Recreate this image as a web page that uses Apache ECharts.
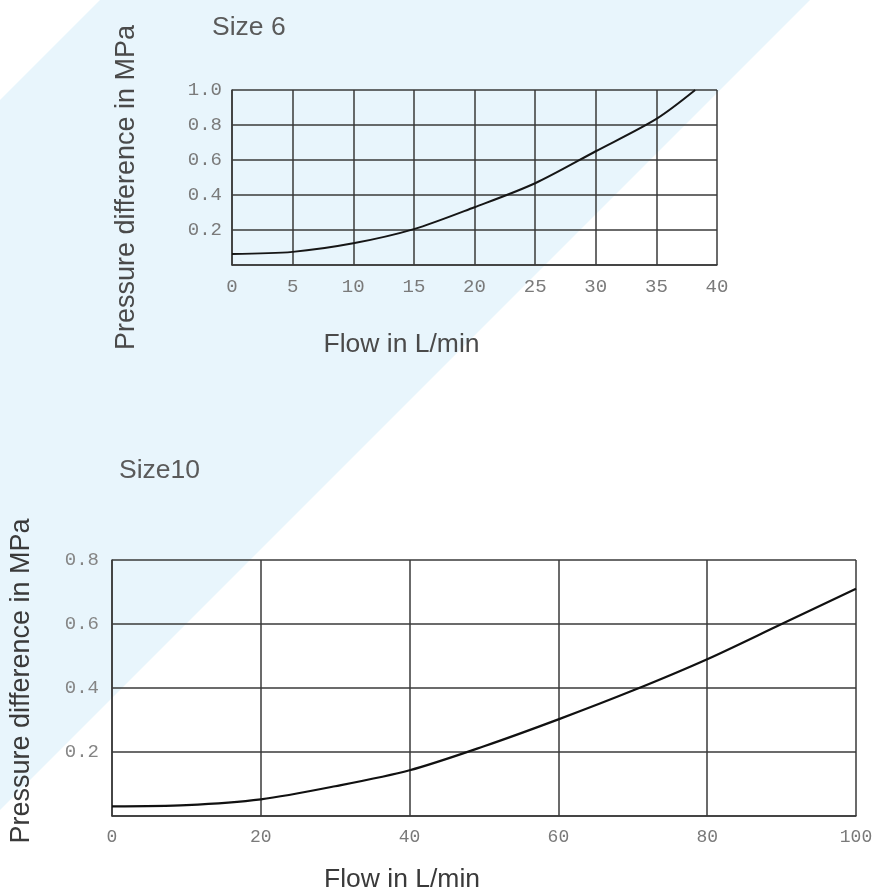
<!DOCTYPE html>
<html>
<head>
<meta charset="utf-8">
<script src="https://cdn.jsdelivr.net/npm/echarts@6/dist/echarts.min.js"></script>
<style>
html,body{margin:0;padding:0;background:#fff;}
#chart{width:878px;height:891px;}
</style>
</head>
<body>
<div id="chart"></div>
<script>
// Size 6
const flow6 = [0, 5, 10, 15, 20, 25, 30, 35, 38.2];
const dp6 = [0.063, 0.075, 0.124, 0.205, 0.33, 0.467, 0.65, 0.835, 1.0];
// Size 10
const flow10 = [0, 10, 20, 30, 40, 50, 60, 70, 80, 90, 100];
const dp10 = [0.03, 0.034, 0.052, 0.093, 0.143, 0.218, 0.302, 0.392, 0.49, 0.6, 0.71];

const titles = ['Size 6', 'Size10'];
const yName = 'Pressure difference in MPa';
const xName = 'Flow in L/min';

const sans = 'Liberation Sans, Arial, sans-serif';
const mono = 'Liberation Mono, DejaVu Sans Mono, monospace';
const gridLine = {lineStyle: {color: '#3a3a3a', width: 1.5}};

const chart = echarts.init(document.getElementById('chart'));
chart.setOption({
  animation: false,
  backgroundColor: '#ffffff',
  graphic: [{
    type: 'polygon', z: -10, silent: true,
    shape: {points: [[100, 0], [810, 0], [0, 810], [0, 100]]},
    style: {fill: '#e8f5fc'}
  }],
  title: [
    {text: titles[0], left: 212, top: 14, padding: 0,
     textStyle: {fontFamily: sans, fontSize: 26.5, fontWeight: 'normal', color: '#5a5a5a'}},
    {text: titles[1], left: 119, top: 457, padding: 0,
     textStyle: {fontFamily: sans, fontSize: 26.5, fontWeight: 'normal', color: '#5a5a5a'}}
  ],
  grid: [
    {left: 232, top: 90, width: 485, height: 175, show: false, containLabel: false, outerBoundsMode: 'none'},
    {left: 112, top: 560, width: 744, height: 256, show: false, containLabel: false, outerBoundsMode: 'none'}
  ],
  xAxis: [
    {type: 'value', gridIndex: 0, min: 0, max: 40, interval: 5,
     name: xName, nameLocation: 'middle', nameGap: 66,
     nameTextStyle: {fontFamily: sans, fontSize: 26.5, color: '#4a4a4a', padding: [0, 146, 0, 0]},
     axisLine: {show: true, lineStyle: {color: '#3a3a3a', width: 1.5}},
     axisTick: {show: false},
     axisLabel: {fontFamily: mono, fontSize: 19, color: '#7a7a7a', margin: 12},
     splitLine: {show: true, ...gridLine}},
    {type: 'value', gridIndex: 1, min: 0, max: 100, interval: 20,
     name: xName, nameLocation: 'middle', nameGap: 50,
     nameTextStyle: {fontFamily: sans, fontSize: 26.5, color: '#3a3a3a', padding: [0, 164, 0, 0]},
     axisLine: {show: true, lineStyle: {color: '#3a3a3a', width: 1.5}},
     axisTick: {show: false},
     axisLabel: {fontFamily: mono, fontSize: 18, color: '#7a7a7a', margin: 12},
     splitLine: {show: true, ...gridLine}}
  ],
  yAxis: [
    {type: 'value', gridIndex: 0, min: 0, max: 1, interval: 0.2,
     name: yName, nameLocation: 'middle', nameGap: 92,
     nameTextStyle: {fontFamily: sans, fontSize: 27, color: '#4a4a4a', padding: [0, 20, 0, 0]},
     axisLine: {show: true, lineStyle: {color: '#3a3a3a', width: 1.5}},
     axisTick: {show: false},
     axisLabel: {fontFamily: mono, fontSize: 19, color: '#7a7a7a', margin: 10,
       formatter: v => v === 0 ? '' : v.toFixed(1)},
     splitLine: {show: true, ...gridLine}},
    {type: 'value', gridIndex: 1, min: 0, max: 0.8, interval: 0.2,
     name: yName, nameLocation: 'middle', nameGap: 77,
     nameTextStyle: {fontFamily: sans, fontSize: 27, color: '#3a3a3a', padding: [0, 0, 0, 14]},
     axisLine: {show: true, lineStyle: {color: '#3a3a3a', width: 1.5}},
     axisTick: {show: false},
     axisLabel: {fontFamily: mono, fontSize: 19, color: '#858585', margin: 13,
       formatter: v => v === 0 ? '' : v.toFixed(1)},
     splitLine: {show: true, ...gridLine}}
  ],
  series: [
    {type: 'line', xAxisIndex: 0, yAxisIndex: 0, smooth: 0.3, symbol: 'none',
     lineStyle: {color: '#161616', width: 2},
     data: flow6.map((f, i) => [f, dp6[i]])},
    {type: 'line', xAxisIndex: 1, yAxisIndex: 1, smooth: 0.3, symbol: 'none',
     lineStyle: {color: '#111111', width: 2.2},
     data: flow10.map((f, i) => [f, dp10[i]])}
  ]
});
</script>
</body>
</html>
